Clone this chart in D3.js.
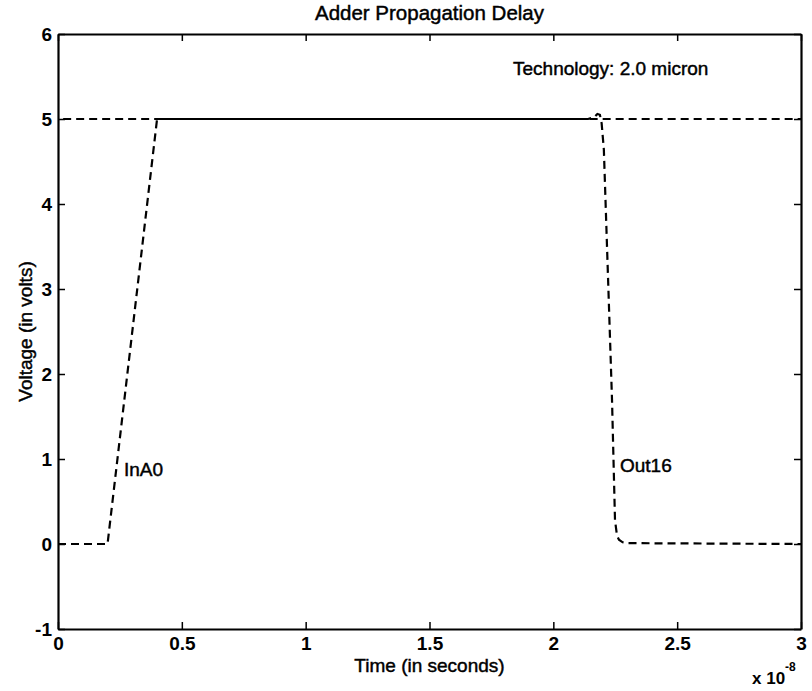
<!DOCTYPE html>
<html lang="en">
	<head>
		<meta charset="utf-8">
		<title>Adder Propagation Delay</title>
		<script type="text/javascript" src="https://cdn.jsdelivr.net/npm/d3@7"></script>
		<style type="text/css">
			body {
				margin: 0;
				background-color: white;
			}
			text {
				font-family: "Liberation Sans", Arial, sans-serif;
				fill: black;
			}
			.label {
				stroke: black;
				stroke-width: 0.45px;
			}
			.tick text {
				font-size: 19px;
				font-weight: bold;
			}
		</style>
	</head>
	<body>
		<script type="text/javascript">
			//Width and height
			var w = 812;
			var h = 691;
			var margin = { top: 34, right: 11, bottom: 62, left: 58 };

			// time in units of 1e-8 s, voltage in volts
			var inA0Time    = [0, 0.2, 0.4, 3];
			var inA0Volt    = [0, 0, 5, 5];
			var out16Time   = [0, 2.14, 2.165, 2.178, 2.188, 2.195, 2.204, 2.237, 2.249, 2.257, 2.265, 2.28, 2.3, 3];
			var out16Volt   = [5, 5, 5.02, 5.06, 5.05, 4.95, 4.64, 1.69, 0.28, 0.1, 0.05, 0.02, 0.01, 0];
			var xTicks      = [0, 0.5, 1, 1.5, 2, 2.5, 3];
			var xTickLabels = ["0", "0.5", "1", "1.5", "2", "2.5", "3"];
			var yTicks      = [-1, 0, 1, 2, 3, 4, 5, 6];
			var yTickLabels = ["-1", "0", "1", "2", "3", "4", "5", "6"];

			var xScale = d3.scaleLinear()
							.domain([0, 3])
							.range([margin.left, w - margin.right]);
			var yScale = d3.scaleLinear()
							.domain([-1, 6])
							.range([h - margin.bottom, margin.top]);

			//Create SVG element
			var svg = d3.select("body")
						.append("svg")
						.attr("width", w)
						.attr("height", h);

			var line = d3.line()
						.x(function(d) { return xScale(d[0]); })
						.y(function(d) { return yScale(d[1]); });

			var inA0 = d3.zip(inA0Time, inA0Volt);
			var out16 = d3.zip(out16Time, out16Volt);

			// both traces dashed; shift the second so the overlap at 5 V reads as solid
			var dash = 8, gap = 5, period = dash + gap;
			var kneeLen = 0;
			for (var i = 1; i < 3; i++) {
				kneeLen += Math.hypot(xScale(inA0[i][0]) - xScale(inA0[i - 1][0]),
									  yScale(inA0[i][1]) - yScale(inA0[i - 1][1]));
			}
			var out16Offset = ((kneeLen - (xScale(inA0[2][0]) - xScale(0)) + period / 2) % period + period) % period;

			svg.append("path")
				.datum(inA0)
				.attr("d", line)
				.attr("fill", "none")
				.attr("stroke", "black")
				.attr("stroke-width", 2.2)
				.attr("stroke-dasharray", dash + "," + gap);

			svg.append("path")
				.datum(out16)
				.attr("d", line)
				.attr("fill", "none")
				.attr("stroke", "black")
				.attr("stroke-width", 2.2)
				.attr("stroke-dasharray", dash + "," + gap)
				.attr("stroke-dashoffset", out16Offset);

			//Axes, ticks pointing inward on all four sides
			var bottomAxis = d3.axisBottom(xScale)
							.tickValues(xTicks)
							.tickFormat(function(d, i) { return xTickLabels[i]; })
							.tickSizeInner(-7)
							.tickSizeOuter(0)
							.tickPadding(8);
			var topAxis = d3.axisTop(xScale)
							.tickValues(xTicks)
							.tickFormat("")
							.tickSizeInner(-7)
							.tickSizeOuter(0);
			var leftAxis = d3.axisLeft(yScale)
							.tickValues(yTicks)
							.tickFormat(function(d, i) { return yTickLabels[i]; })
							.tickSizeInner(-7)
							.tickSizeOuter(0)
							.tickPadding(6);
			var rightAxis = d3.axisRight(yScale)
							.tickValues(yTicks)
							.tickFormat("")
							.tickSizeInner(-7)
							.tickSizeOuter(0);

			var axes = [
				[bottomAxis, "translate(0," + (h - margin.bottom) + ")"],
				[topAxis, "translate(0," + margin.top + ")"],
				[leftAxis, "translate(" + margin.left + ",0)"],
				[rightAxis, "translate(" + (w - margin.right) + ",0)"]
			];
			axes.forEach(function(a) {
				var g = svg.append("g")
							.attr("transform", a[1])
							.call(a[0]);
				g.select(".domain").attr("stroke-width", 2.2);
				g.selectAll(".tick line").attr("stroke-width", 1.5);
				g.selectAll(".tick text").attr("font-family", null).attr("font-size", null);
			});

			//Titles and labels
			svg.append("text")
				.attr("class", "label")
				.attr("x", (margin.left + w - margin.right) / 2)
				.attr("y", 20)
				.attr("text-anchor", "middle")
				.attr("font-size", "20.5px")
				.text("Adder Propagation Delay");

			svg.append("text")
				.attr("class", "label")
				.attr("x", 513)
				.attr("y", 75)
				.attr("font-size", "19px")
				.text("Technology: 2.0 micron");

			svg.append("text")
				.attr("class", "label")
				.attr("x", (margin.left + w - margin.right) / 2)
				.attr("y", 672)
				.attr("text-anchor", "middle")
				.attr("font-size", "19px")
				.text("Time (in seconds)");

			svg.append("text")
				.attr("class", "label")
				.attr("transform", "translate(32," + ((margin.top + h - margin.bottom) / 2) + ") rotate(-90)")
				.attr("text-anchor", "middle")
				.attr("font-size", "19px")
				.text("Voltage (in volts)");

			var expo = svg.append("text")
				.attr("x", 752)
				.attr("y", 684)
				.attr("font-size", "17px")
				.attr("font-weight", "bold");
			expo.append("tspan").text("x 10");
			expo.append("tspan")
				.attr("dy", -13)
				.attr("font-size", "12px")
				.text("-8");

			svg.append("text")
				.attr("class", "label")
				.attr("x", 124)
				.attr("y", 476)
				.attr("font-size", "19px")
				.text("InA0");

			svg.append("text")
				.attr("class", "label")
				.attr("x", 620)
				.attr("y", 472)
				.attr("font-size", "19px")
				.text("Out16");
		</script>
	</body>
</html>
